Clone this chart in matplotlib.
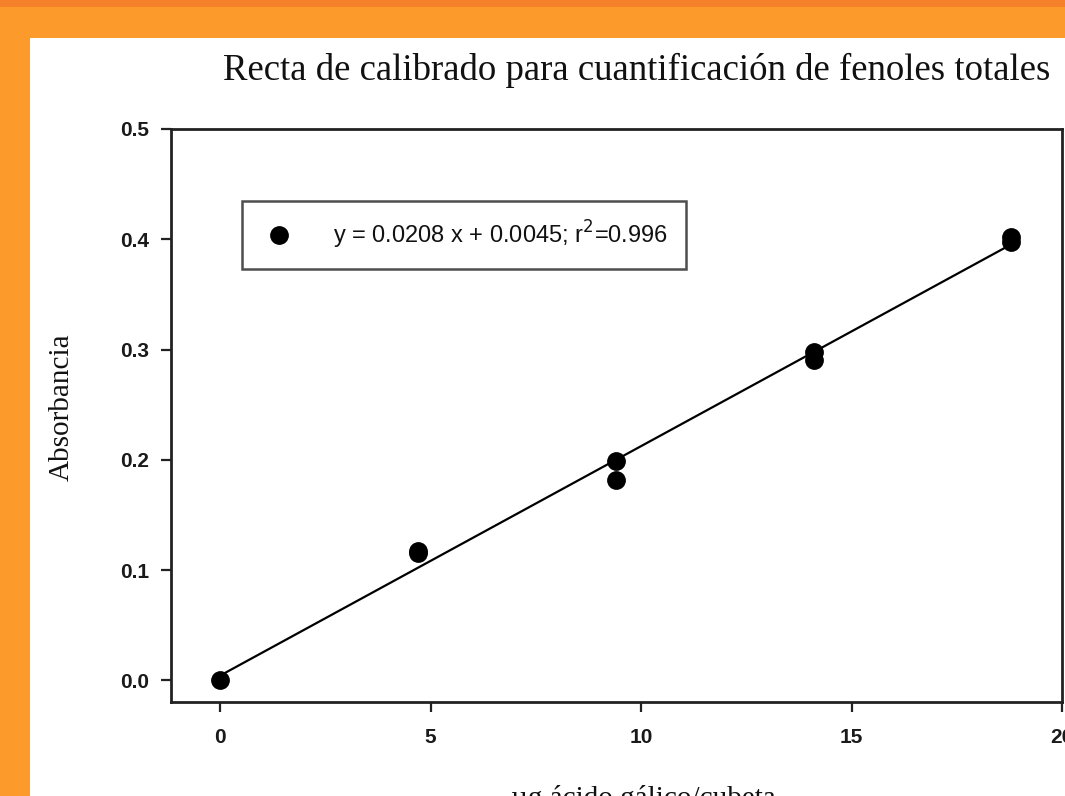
import matplotlib
matplotlib.use("Agg")
import matplotlib.pyplot as plt
from matplotlib.patches import Rectangle
import numpy as np

# Data
x_vals = [0.0, 4.7, 4.7, 9.4, 9.4, 14.1, 14.1, 18.8, 18.8]
y_vals = [0.000, 0.116, 0.117, 0.199, 0.182, 0.298, 0.291, 0.402, 0.398]
slope = 0.0208
intercept = 0.0045
legend_label = "y = 0.0208 x + 0.0045; r$^2$=0.996"
title = "Recta de calibrado para cuantificación de fenoles totales"
xlabel = "µg ácido gálico/cubeta"
ylabel = "Absorbancia"
xticks = [0, 5, 10, 15, 20]
yticks = [0.0, 0.1, 0.2, 0.3, 0.4, 0.5]

W, H = 1065, 796
fig = plt.figure(figsize=(W / 100, H / 100), dpi=100)
fig.patch.set_facecolor("#FD9A2C")
# darker top strip
fig.add_artist(Rectangle((0, 1 - 7 / H), 1, 7 / H, transform=fig.transFigure,
                         facecolor="#F5822A", edgecolor="none", zorder=0))
# white panel
fig.add_artist(Rectangle((30 / W, 0), 1 - 30 / W, 1 - 38 / H, transform=fig.transFigure,
                         facecolor="white", edgecolor="none", zorder=0))

ax = fig.add_axes([171 / W, 1 - 702 / H, (1062 - 171) / W, (702 - 129) / H])
ax.set_facecolor("white")

ax.plot(x_vals, y_vals, "o", color="black", markersize=12.5, label=legend_label,
        zorder=3, clip_on=False)
xl = np.array([min(x_vals), max(x_vals)])
ax.plot(xl, slope * xl + intercept, color="black", linewidth=1.6, zorder=2)

ax.set_xlim(-1.17, 20)
ax.set_ylim(-0.0195, 0.5)
ax.set_xticks(xticks)
ax.set_xticklabels([str(t) for t in xticks])
ax.set_yticks(yticks)
ax.set_yticklabels([f"{t:.1f}" for t in yticks])

for s in ax.spines.values():
    s.set_linewidth(2.0)
    s.set_color("#222222")

ax.tick_params(direction="out", length=7, width=1.6, color="#222222",
               labelsize=15, pad=9)
for lab in ax.get_xticklabels() + ax.get_yticklabels():
    lab.set_family("Liberation Sans")
    lab.set_fontweight("bold")
    lab.set_color("#1a1a1a")
ax.tick_params(axis="x", pad=12)

leg = ax.legend(loc="upper left",
                bbox_to_anchor=((242 - 171) / (1062 - 171), 1 - (201 - 129) / (702 - 129)),
                frameon=True, fancybox=False, borderpad=0.75, handletextpad=1.5,
                handlelength=1.6,
                prop={"family": "Liberation Sans", "size": 17}, borderaxespad=0)
leg.get_frame().set_edgecolor("#222222")
leg.get_frame().set_linewidth(1.8)
for t in leg.get_texts():
    t.set_color("#111111")

fig.text(637 / W, 1 - 70 / H, title, ha="center", va="center",
         fontfamily="Liberation Serif", fontsize=26.5, color="#111111")
fig.text(62 / W, 1 - 407 / H, ylabel, ha="center", va="center", rotation=90,
         fontfamily="Liberation Serif", fontsize=21, color="#111111")
fig.text(643 / W, 1 - 806 / H, xlabel, ha="center", va="baseline",
         fontfamily="Liberation Serif", fontsize=21, color="#111111")

fig.savefig("out.png", dpi=100, facecolor=fig.get_facecolor())
